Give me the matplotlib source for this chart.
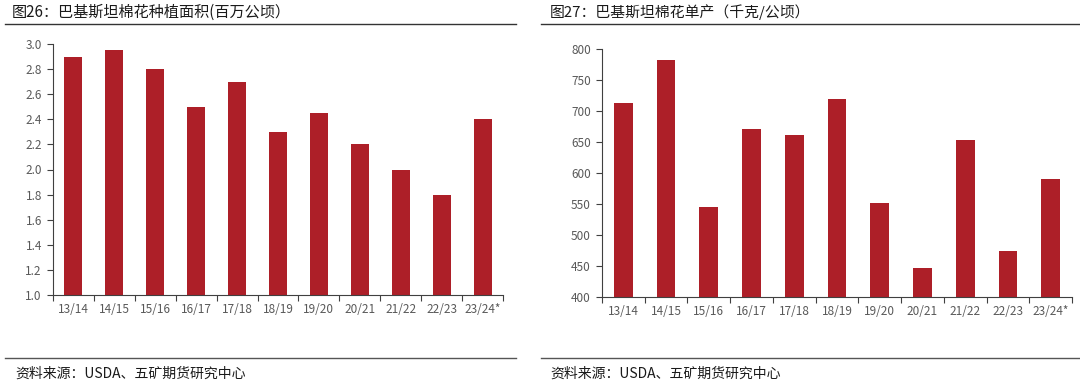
import matplotlib
matplotlib.use("Agg")
import matplotlib.pyplot as plt
from matplotlib.lines import Line2D

plt.rcParams['font.family'] = ['Noto Sans CJK SC', 'DejaVu Sans']

categories = ["13/14", "14/15", "15/16", "16/17", "17/18", "18/19",
              "19/20", "20/21", "21/22", "22/23", "23/24*"]
area = [2.9, 2.95, 2.8, 2.5, 2.7, 2.3, 2.45, 2.2, 2.0, 1.8, 2.4]
yield_kg = [713, 782, 545, 671, 662, 720, 552, 446, 654, 474, 591]

title_left = "图26：巴基斯坦棉花种植面积(百万公顷）"
title_right = "图27：巴基斯坦棉花单产（千克/公顷）"
source = "资料来源：USDA、五矿期货研究中心"

W, H = 1080, 387
fig = plt.figure(figsize=(W / 100, H / 100), dpi=100)

bar_color = "#AD1F28"
tick_color = "#595959"
spine_color = "#404040"


def px_axes(x0, y0, x1, y1):
    return fig.add_axes([x0 / W, 1 - y1 / H, (x1 - x0) / W, (y1 - y0) / H])


def style(ax, vals, ylim, yticks, ylabels):
    x = list(range(len(categories)))
    ax.bar(x, vals, width=0.44, color=bar_color, zorder=2)
    ax.set_xlim(-0.5, len(categories) - 0.5)
    ax.set_ylim(*ylim)
    ax.set_yticks(yticks)
    ax.set_yticklabels(ylabels)
    ax.set_xticks(x)
    ax.set_xticklabels(categories)
    ax.set_xticks([i - 0.5 for i in range(len(categories) + 1)], minor=True)
    ax.tick_params(axis='x', which='major', length=0, pad=6,
                   labelsize=8.5, labelcolor=tick_color)
    ax.tick_params(axis='x', which='minor', length=4, direction='out',
                   color=spine_color, width=0.8)
    ax.tick_params(axis='y', which='major', length=4, direction='out',
                   color=spine_color, width=0.8, labelsize=8.5,
                   labelcolor=tick_color, pad=4)
    for s in ['top', 'right']:
        ax.spines[s].set_visible(False)
    for s in ['left', 'bottom']:
        ax.spines[s].set_color(spine_color)
        ax.spines[s].set_linewidth(0.8)


axL = px_axes(53, 44, 503, 295)
style(axL, area, (1.0, 3.0),
      [1.0 + 0.2 * i for i in range(11)],
      ["%.1f" % (1.0 + 0.2 * i) for i in range(11)])

axR = px_axes(602, 49, 1072, 297)
style(axR, yield_kg, (400, 800),
      list(range(400, 801, 50)),
      [str(v) for v in range(400, 801, 50)])

# Titles
fig.text(12 / W, 1 - 12 / H, title_left, fontsize=10.9, color="#1a1a1a",
         va='center', ha='left')
fig.text(550 / W, 1 - 12 / H, title_right, fontsize=10.7, color="#1a1a1a",
         va='center', ha='left')

# Separator lines
for (x0, x1) in [(5, 516), (541, 1080)]:
    fig.add_artist(Line2D([x0 / W, x1 / W], [1 - 24 / H, 1 - 24 / H],
                          color="#333333", linewidth=1.0))
    fig.add_artist(Line2D([x0 / W, x1 / W], [1 - 358 / H, 1 - 358 / H],
                          color="#555555", linewidth=1.0))

fig.text(15 / W, 1 - 374 / H, source, fontsize=10, color="#1a1a1a",
         va='center', ha='left')
fig.text(550 / W, 1 - 374 / H, source, fontsize=10, color="#1a1a1a",
         va='center', ha='left')

fig.savefig("out.png", dpi=100)
